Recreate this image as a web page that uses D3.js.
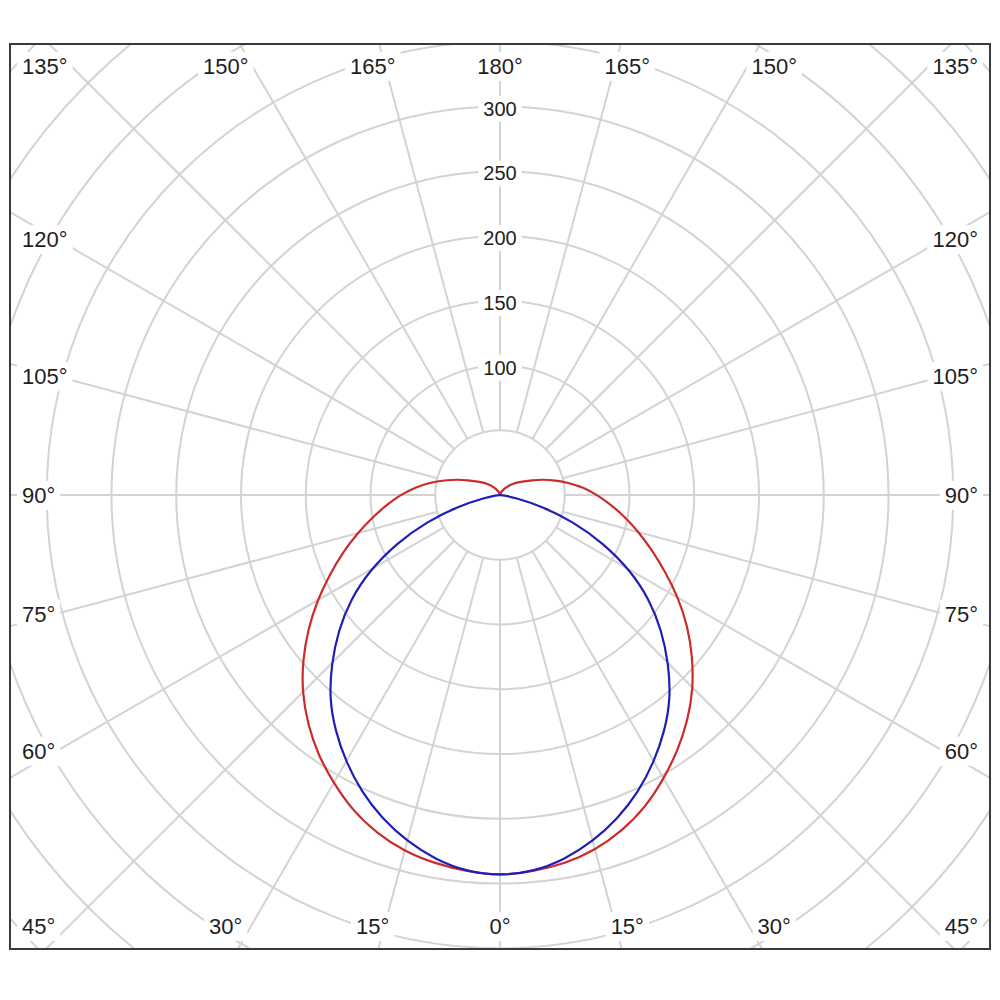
<!DOCTYPE html>
<html>
<head>
<meta charset="utf-8">
<script src="https://cdn.jsdelivr.net/npm/d3@7"></script>
<style>
  body { margin: 0; background: #fff; }
  text { font-family: "Liberation Sans", Arial, sans-serif; fill: #1e1e1e; }
</style>
</head>
<body>
<svg id="chart" width="1000" height="1000"></svg>
<script>
// gamma angles (deg from nadir) and intensities
const redAngles = [0, 5, 10, 15, 20, 25, 30, 35, 40, 45, 50, 55, 60, 65, 70, 75, 80, 85, 90,
  95, 100, 105, 110, 115, 120, 125, 130, 135, 140, 145, 150, 155, 160, 165, 170, 175, 180];
const redLeft = [294, 292, 289, 285, 278, 269, 257, 245, 231, 216, 199, 181, 163, 145, 129, 114, 100, 88, 77,
  66, 55, 44, 35, 27, 21, 17, 14, 11, 8, 6, 4, 3, 2, 1, 0, 0, 0];
const redRight = [294, 292, 289, 284, 276, 266, 253, 240, 226, 211, 194, 177, 159, 141, 125, 111, 98, 86, 75,
  65, 54, 44, 35, 27, 21, 17, 14, 11, 8, 6, 4, 3, 2, 1, 0, 0, 0];

const blueAngles = [0, 5, 10, 15, 20, 25, 30, 35, 40, 45, 50, 55, 60, 65, 70, 75, 80, 85, 90];
const blueValues = [294, 292, 286, 277, 266, 253, 238, 222, 205, 184, 163, 141, 116, 88, 60, 33, 11, 3, 0];

const ringValues = [50, 100, 150, 200, 250, 300, 350, 400, 450, 500];
const ringLabels = [100, 150, 200, 250, 300];
const spokeAngles = [0, 15, 30, 45, 60, 75, 90, 105, 120, 135, 150, 165, 180];

const frame = { x: 10, y: 44, w: 980, h: 905 };
const cx = 500, cy = 495;

const r = d3.scaleLinear().domain([0, 300]).range([0, 388.5]);
const rad = d3.scaleLinear().domain([0, 180]).range([0, Math.PI]);

const svg = d3.select('#chart');

svg.append('clipPath').attr('id', 'frameClip')
  .append('rect')
  .attr('x', frame.x).attr('y', frame.y)
  .attr('width', frame.w).attr('height', frame.h);

const grid = svg.append('g')
  .attr('clip-path', 'url(#frameClip)')
  .append('g')
  .attr('transform', `translate(${cx},${cy})`);

grid.selectAll('circle')
  .data(ringValues)
  .join('circle')
  .attr('r', d => r(d))
  .attr('fill', 'none')
  .attr('stroke', '#d3d3d3')
  .attr('stroke-width', 2);

// one spoke per side, 0 and 180 only once
const spokes = spokeAngles.flatMap(a => (a === 0 || a === 180) ? [{ a, s: 1 }] : [{ a, s: -1 }, { a, s: 1 }]);

grid.selectAll('line')
  .data(spokes)
  .join('line')
  .attr('x1', d => d.s * r(50) * Math.sin(rad(d.a)))
  .attr('y1', d => r(50) * Math.cos(rad(d.a)))
  .attr('x2', d => d.s * r(600) * Math.sin(rad(d.a)))
  .attr('y2', d => r(600) * Math.cos(rad(d.a)))
  .attr('stroke', '#d3d3d3')
  .attr('stroke-width', 2);

// curves
const radial = d3.lineRadial()
  .curve(d3.curveBasis)
  .angle(d => d[0])
  .radius(d => r(d[1]));

function bothHalves(angles, left, right) {
  const pts = [];
  for (let i = angles.length - 1; i >= 0; i--) pts.push([Math.PI + rad(angles[i]), left[i]]);
  for (let i = 1; i < angles.length; i++) pts.push([Math.PI - rad(angles[i]), right[i]]);
  return pts;
}

const curves = svg.append('g').attr('transform', `translate(${cx},${cy})`);

curves.append('path')
  .attr('d', radial(bothHalves(redAngles, redLeft, redRight)))
  .attr('fill', 'none')
  .attr('stroke', '#cc2b2b')
  .attr('stroke-width', 2.2);

curves.append('path')
  .attr('d', radial(bothHalves(blueAngles, blueValues, blueValues)))
  .attr('fill', 'none')
  .attr('stroke', '#1f1fb8')
  .attr('stroke-width', 2.2);

// labels with white boxes that break the grid
const bgLayer = svg.append('g');
const textLayer = svg.append('g');

function addLabel(x, y, str, anchor, size) {
  const t = textLayer.append('text')
    .attr('x', x).attr('y', y)
    .attr('dy', '0.36em')
    .attr('text-anchor', anchor)
    .attr('font-size', size)
    .text(str);
  const bb = t.node().getBBox();
  bgLayer.append('rect')
    .attr('x', bb.x - 5).attr('y', bb.y - 2)
    .attr('width', bb.width + 10).attr('height', bb.height + 4)
    .attr('fill', '#fff');
}

ringLabels.forEach(v => addLabel(cx, cy - r(v) + 2, v, 'middle', 20));

const halfW = 443, halfH = 475, topY = 66, botY = 926;
spokes.forEach(d => {
  const sn = Math.abs(Math.sin(rad(d.a)));
  const cs = Math.cos(rad(d.a));
  const str = d.a + '°';
  if (sn * halfH > Math.abs(cs) * halfW) {
    const y = Math.max(topY, Math.min(botY, cy + halfW * cs / sn));
    addLabel(d.s < 0 ? 22 : 978, y, str, d.s < 0 ? 'start' : 'end', 22);
  } else {
    const x = cx + d.s * halfH * sn / Math.abs(cs);
    addLabel(x, cs > 0 ? botY : topY, str, 'middle', 22);
  }
});

svg.append('rect')
  .attr('x', frame.x).attr('y', frame.y)
  .attr('width', frame.w).attr('height', frame.h)
  .attr('fill', 'none')
  .attr('stroke', '#3a3a3a')
  .attr('stroke-width', 2);
</script>
</body>
</html>
